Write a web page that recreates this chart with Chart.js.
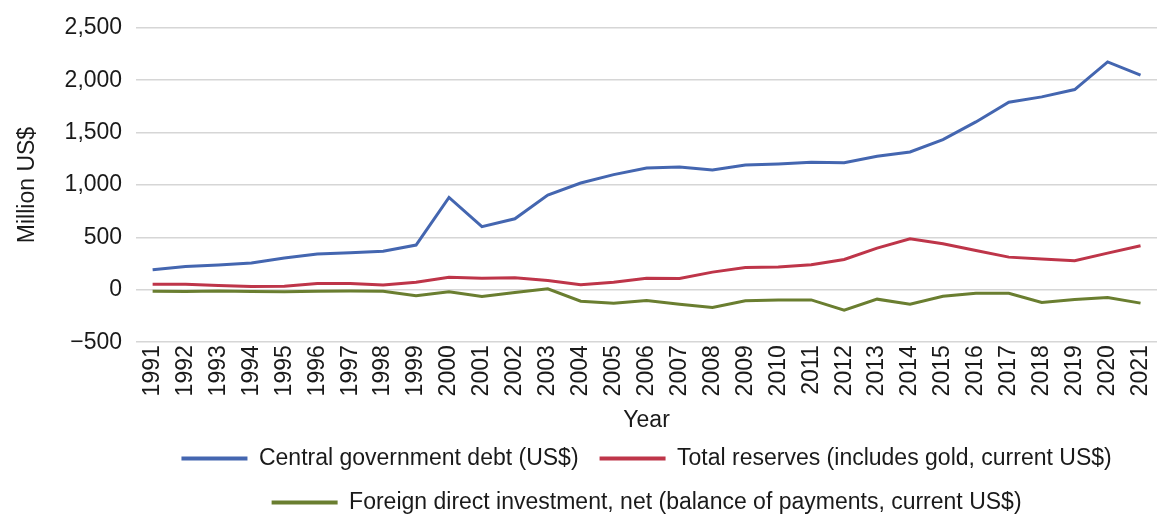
<!DOCTYPE html>
<html lang="en">
<head>
  <meta charset="UTF-8" />
  <title>Central government debt, reserves and FDI, 1991-2021</title>
  <style>
    html, body { margin: 0; padding: 0; background: #fff; }
    .chart-container { width: 1173px; height: 516px; }
  </style>
</head>
<body>
<div class="chart-container">
  <canvas id="chart"></canvas>
</div>

<script src="https://cdn.jsdelivr.net/npm/chart.js"></script>
<script>
const years = ['1991', '1992', '1993', '1994', '1995', '1996', '1997', '1998', '1999', '2000',
  '2001', '2002', '2003', '2004', '2005', '2006', '2007', '2008', '2009', '2010',
  '2011', '2012', '2013', '2014', '2015', '2016', '2017', '2018', '2019', '2020', '2021'];

// Million US$
const govDebt = [191, 223, 236, 255, 303, 341, 354, 369, 427, 882,
  602, 678, 905, 1019, 1099, 1163, 1172, 1143, 1191, 1201,
  1217, 1213, 1274, 1315, 1433, 1602, 1790, 1841, 1911, 2175, 2048];
const totalReserves = [54, 54, 41, 32, 35, 61, 61, 45, 73, 121,
  111, 115, 89, 48, 73, 111, 108, 169, 213, 217,
  239, 290, 398, 487, 440, 376, 312, 293, 277, 350, 420];
const fdiNet = [-13, -16, -10, -16, -19, -13, -10, -13, -57, -19,
  -64, -25, 10, -108, -127, -102, -137, -169, -105, -96,
  -96, -194, -89, -137, -61, -32, -32, -121, -92, -73, -127];

const yTicks = [-500, 0, 500, 1000, 1500, 2000, 2500];

const font = { family: '"Liberation Sans", Arial, sans-serif', size: 23 };
const ink = '#1a1a1a';

const mkSet = (label, data, color) => ({
  label, data,
  borderColor: color,
  backgroundColor: color,
  borderWidth: 3,
  pointRadius: 0,
  tension: 0
});

new Chart(document.getElementById('chart'), {
  type: 'line',
  data: {
    labels: years,
    datasets: [
      mkSet('Central government debt (US$)', govDebt, '#4466b0'),
      mkSet('Total reserves (includes gold, current US$)', totalReserves, '#be3549'),
      mkSet('Foreign direct investment, net (balance of payments, current US$)', fdiNet, '#6a7e30')
    ]
  },
  options: {
    responsive: true,
    maintainAspectRatio: false,
    animation: false,
    layout: { padding: { top: 12, right: 16, left: 14, bottom: -8 } },
    plugins: {
      tooltip: { enabled: false },
      legend: {
        position: 'bottom',
        fullSize: false,
        labels: {
          font, color: ink,
          boxWidth: 66, boxHeight: 4,
          padding: 21,
          generateLabels: chart => Chart.defaults.plugins.legend.labels.generateLabels(chart)
            .map(l => Object.assign(l, { lineWidth: 0 }))
        }
      }
    },
    scales: {
      x: {
        offset: true,
        grid: { display: false, drawTicks: false, tickLength: 0 },
        border: { display: false },
        ticks: { font, color: ink, minRotation: 90, maxRotation: 90, autoSkip: false, padding: 3 },
        title: { display: true, text: 'Year', font, color: ink, padding: { top: 7, bottom: -8 } }
      },
      y: {
        min: -500, max: 2500,
        afterBuildTicks: axis => { axis.ticks = yTicks.map(v => ({ value: v })); },
        grid: { color: '#d6d6d6', lineWidth: 1.5, drawTicks: false },
        border: { display: false },
        ticks: {
          font, color: ink, padding: 14,
          callback: v => v < 0 ? '\u2212' + Math.abs(v).toLocaleString('en-US') : v.toLocaleString('en-US')
        },
        title: { display: true, text: 'Million US$', font, color: ink, padding: { top: 0, bottom: 9 } }
      }
    }
  }
});
</script>
</body>
</html>
